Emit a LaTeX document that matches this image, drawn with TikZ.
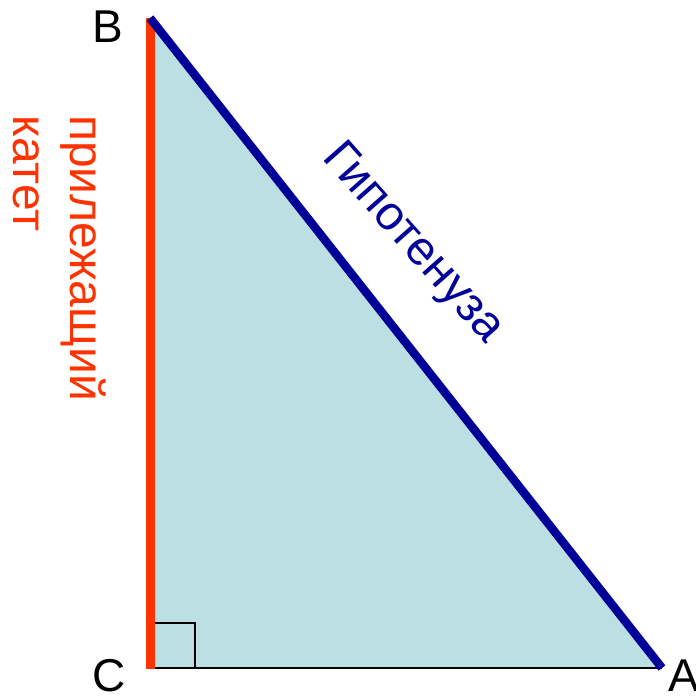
\documentclass[tikz,border=0pt]{standalone}
\usepackage{fontspec}
\setmainfont{Liberation Sans}
\definecolor{legfill}{HTML}{BBDFE3}
\definecolor{legred}{HTML}{FF3300}
\definecolor{hypblue}{HTML}{000099}
\begin{document}
\begin{tikzpicture}[x=1pt,y=-1pt,
  vlabel/.style={font=\fontsize{46}{52}\selectfont, inner sep=0pt},
  redtext/.style={text=legred, font=\fontsize{48}{55}\selectfont, inner sep=0pt, rotate=-90, anchor=base west},
  hyptext/.style={text=hypblue, font=\fontsize{48}{55}\selectfont, inner sep=0pt, rotate=-48.5, anchor=base west},
  thinline/.style={black, line width=2pt},
  rightmark/.style={black, line width=1.5pt},
  legline/.style={legred, line width=9pt},
  hypline/.style={hypblue, line width=8.5pt}
]
\useasboundingbox (0,0) rectangle (696,696);
\coordinate (B) at (150,18);
\coordinate (C) at (150,668);
\coordinate (A) at (662,668);
\coordinate (Cend) at (150,669);
\coordinate (R1) at (150,623);
\coordinate (R2) at (195,623);
\coordinate (R3) at (195,668);
\fill[legfill] (B) -- (C) -- (A) -- cycle;
\draw[thinline] (C) -- (A);
\draw[rightmark] (R1) -- (R2) -- (R3);
\draw[legline] (B) -- (Cend);
\draw[hypline] (B) -- (A);
\node[vlabel] (lB) at (108,27) {B};
\node[vlabel] (lC) at (109,676) {C};
\node[vlabel] (lA) at (684,676) {A};
\node[redtext] (adj1) at (70,115) {прилежащий};
\node[redtext] (adj2) at (13,115) {катет};
\node[hyptext] (hyp) at (321,158) {Гипотенуза};
\end{tikzpicture}
\end{document}
